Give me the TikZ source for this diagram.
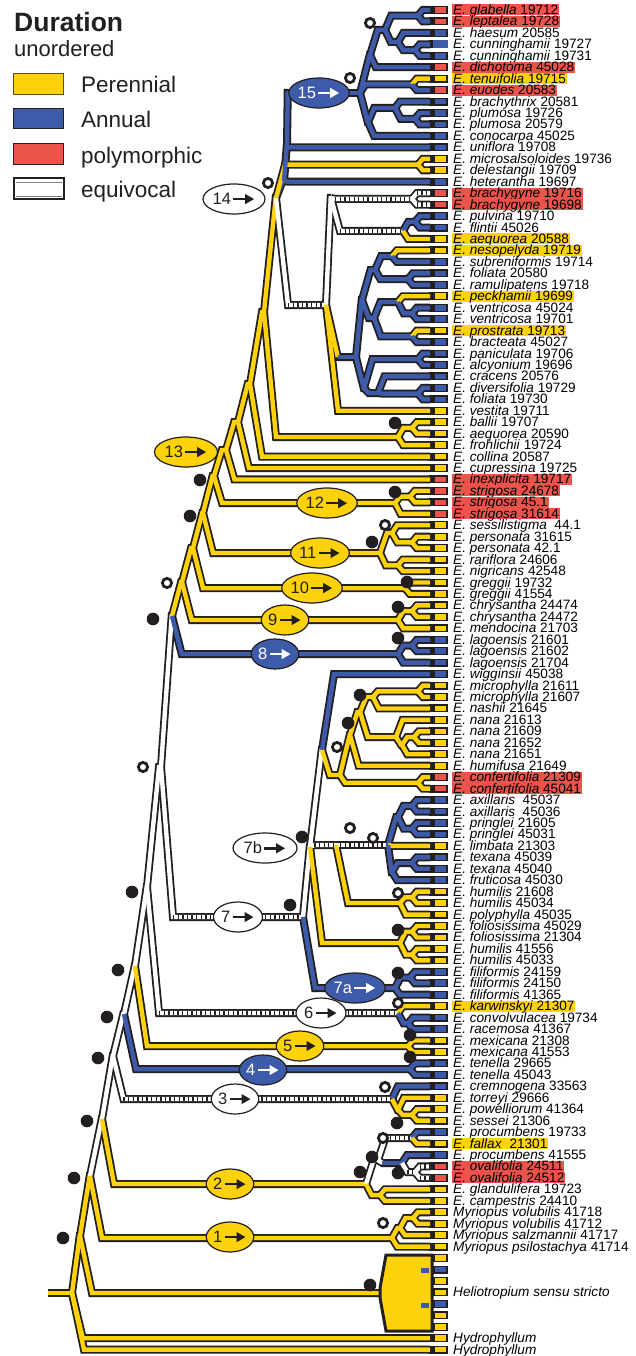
\documentclass[tikz,border=0pt]{standalone}
\usepackage{fontspec}
\setmainfont{Liberation Sans}
\usetikzlibrary{arrows.meta,shapes.geometric,calc}
\definecolor{pY}{HTML}{FDD20A}
\definecolor{pB}{HTML}{3E5BA9}
\definecolor{pR}{HTML}{EC534A}
\definecolor{blk}{HTML}{231F20}
\tikzset{
 blkline/.style={draw=blk,line width=8pt,line join=miter},
 colY/.style={draw=pY,line width=4.4pt,line join=miter},
 colB/.style={draw=pB,line width=4.4pt,line join=miter},
 colW/.style={draw=white,line width=4.4pt,line join=miter},
 tickY/.style={draw=none},
 tickB/.style={draw=none},
 tickW/.style={draw=blk,line width=4.4pt,dash pattern=on 1.3pt off 3.3pt},
 lbl/.style={anchor=west,inner xsep=1pt,inner ysep=0pt,text height=10pt,text depth=1pt,font=\fontsize{13.6}{14}\selectfont},
 hR/.style={fill=pR},
 hY/.style={fill=pY},
 ovbase/.style={ellipse,draw=blk,line width=1.2pt,inner sep=0pt,minimum height=30pt,font=\fontsize{16.5}{18}\selectfont},
 ovY/.style={ovbase,fill=pY,text=blk},
 ovB/.style={ovbase,fill=pB,text=white},
 ovW/.style={ovbase,fill=white,text=blk},
 legtxt/.style={anchor=base west,inner sep=0pt,font=\fontsize{22.5}{24}\selectfont,text=blk}
}
\newcommand\arrw[1]{\tikz[baseline=-5.6pt]{\draw[#1,line width=2.4pt,-{Triangle[length=9pt,width=9.5pt]}] (0pt,0pt)--(21pt,0pt);}}
\newcommand\slf{min(0.15*abs((\y2)-(\y1))+4,12,max((\x2)-(\x1)-0.3,0))}
\newcommand\bE[3]{\draw[blkline] let \p1=(#2),\p2=(#3),\n1={\slf} in (\p1)--({\x1+\n1},\y2)--(\p2);}
\newcommand\cE[3]{\draw[col#1] let \p1=(#2),\p2=(#3),\n1={\slf} in (\p1)--({\x1+\n1},\y2)--(\p2);
 \draw[tick#1] let \p1=(#2),\p2=(#3),\n1={\slf} in ({\x1+\n1},\y2)--(\p2);}
\newcommand\bEs[4]{\bE{}{#3}{#4}}
\newcommand\cEs[4]{\draw[col#1] let \p1=(#3),\p2=(#4),\n1={\slf} in (\p1)--({\x1+\n1},\y2);
 \draw[col#2] let \p1=(#3),\p2=(#4),\n1={\slf} in ({\x1+\n1},\y2)--(\p2);
 \draw[tick#2] let \p1=(#3),\p2=(#4),\n1={\slf} in ({\x1+\n1},\y2)--(\p2);}
\newcommand\lb[3]{\node[lbl,#2] (t#1) at (452,{10+(#1-1)*11.45}) {#3};}
\newcommand\treeedges{%
\TE{Y}{R0}{nA}\TE{Y}{nA}{nB}\TE{Y}{nA}{l117}\TE{Y}{nA}{l118}
\TE{Y}{nB}{nC}\TE{Y}{nB}{nHL}
\TE{W}{nC}{nD}\TE{Y}{nC}{n1}
\TE{W}{nD}{nE}\TE{Y}{nD}{n2}
\TE{W}{nE}{nF}\TE{W}{nE}{n3}
\TE{W}{nF}{nG}\TE{B}{nF}{n4}
\TE{W}{nG}{nH}\TE{Y}{nG}{n5}
\TE{W}{nH}{nI}\TE{W}{nH}{n6}
\TE{W}{nI}{nJ}\TE{W}{nI}{n7}
\TE{Y}{nJ}{nK}\TE{B}{nJ}{n8}
\TE{Y}{nK}{nL}\TE{Y}{nK}{n9}
\TE{Y}{nL}{nM}\TE{Y}{nL}{n10}
\TE{Y}{nM}{nN}\TE{Y}{nM}{n11}
\TE{Y}{nN}{nO}\TE{Y}{nN}{n12}
\TE{Y}{nO}{nP}\TE{Y}{nO}{l42}
\TE{Y}{nP}{nQ}\TE{Y}{nP}{l41}
\TE{Y}{nQ}{nS}\TE{Y}{nQ}{l40}
\TE{Y}{nS}{nT}\TE{Y}{nS}{nBf}
\TE{B}{nT}{nT1}\TE{W}{nT}{nX}\TE{Y}{nT}{nMd}
\TE{B}{nT1}{l16}\TE{B}{nT1}{nT2}
\TE{B}{nT2}{l13}\TE{B}{nT2}{nT3}\TE{B}{nT3}{n15}
\TE{B}{n15}{nNa}\TE{B}{n15}{nTe}\TE{B}{n15}{nNb}
\TE{B}{nNa}{nNab}\TE{B}{nNa}{l6}
\TE{B}{nNab}{nGl}\TE{B}{nNab}{nHc}
\TE{B}{nGl}{l1}\TE{B}{nGl}{l2}
\TE{B}{nHc}{l3}\TE{B}{nHc}{nCu}
\TE{B}{nCu}{l4}\TE{B}{nCu}{l5}
\TE{Y}{nTe}{l7}\TE{B}{nTe}{l8}
\TE{B}{nNb}{nBp}\TE{B}{nNb}{l12}
\TE{B}{nBp}{l9}\TE{B}{nBp}{nPl}
\TE{B}{nPl}{l10}\TE{B}{nPl}{l11}
\TE{Y}{nMd}{l14}\TE{Y}{nMd}{l15}
\TE{W}{nX}{nY}\TEs{Y}{B}{nX}{nBB}\TE{Y}{nX}{l36}
\TE{W}{nY}{nBr}\TE{W}{nY}{nPfa}
\TE{W}{nBr}{l17}\TE{W}{nBr}{l18}
\TE{B}{nPfa}{nPf}\TE{Y}{nPfa}{l21}
\TE{B}{nPf}{l19}\TE{B}{nPf}{l20}
\TE{B}{nBB}{nB1}\TE{B}{nBB}{nB2}
\TE{B}{nB1}{nB1a}\TE{B}{nB1}{nB1b}
\TE{B}{nB1a}{nNs}\TE{B}{nB1a}{nFr}
\TE{Y}{nNs}{l22}\TE{B}{nNs}{l23}
\TE{B}{nFr}{l24}\TE{B}{nFr}{l25}
\TE{B}{nB1b}{nPv}\TE{B}{nB1b}{nPb}
\TE{Y}{nPv}{l26}\TE{B}{nPv}{nVen}
\TE{B}{nVen}{l27}\TE{B}{nVen}{l28}
\TE{Y}{nPb}{l29}\TE{B}{nPb}{l30}
\TE{B}{nB2}{nPa}\TE{B}{nB2}{nB2b}
\TE{B}{nPa}{l31}\TE{B}{nPa}{l32}
\TE{B}{nB2b}{l33}\TE{B}{nB2b}{nDf}
\TE{B}{nDf}{l34}\TE{B}{nDf}{l35}
\TE{Y}{nBf}{nBa}\TE{Y}{nBf}{l39}
\TE{Y}{nBa}{l37}\TE{Y}{nBa}{l38}
\TE{Y}{n12}{nSt}\TE{Y}{n12}{l45}
\TE{Y}{nSt}{l43}\TE{Y}{nSt}{l44}
\TE{Y}{n11}{nSp}\TE{Y}{n11}{nRn}
\TE{Y}{nSp}{l46}\TE{Y}{nSp}{nPe}
\TE{Y}{nPe}{l47}\TE{Y}{nPe}{l48}
\TE{Y}{nRn}{l49}\TE{Y}{nRn}{l50}
\TE{Y}{n10}{l51}\TE{Y}{n10}{l52}
\TE{Y}{n9}{nCh}\TE{Y}{n9}{l55}
\TE{Y}{nCh}{l53}\TE{Y}{nCh}{l54}
\TE{B}{n8}{nLg}\TE{B}{n8}{l58}
\TE{B}{nLg}{l56}\TE{B}{nLg}{l57}
\TE{W}{n7}{n7b}\TE{B}{n7}{n7a}
\TE{B}{n7a}{nFf}\TE{B}{n7a}{l87}
\TE{B}{nFf}{l85}\TE{B}{nFf}{l86}
\TE{W}{n7b}{nW}\TE{W}{n7b}{nMid}\TE{Y}{n7b}{nFh}
\TE{B}{nW}{l59}\TE{Y}{nW}{nYa}
\TE{Y}{nYa}{nYb}\TE{Y}{nYa}{nCf}
\TE{Y}{nCf}{l68}\TE{Y}{nCf}{l69}
\TE{Y}{nYb}{nYc}\TE{Y}{nYb}{l67}
\TE{Y}{nYc}{nYd}\TE{Y}{nYc}{nNa1}
\TE{Y}{nYd}{nMic}\TE{Y}{nYd}{l62}
\TE{Y}{nMic}{l60}\TE{Y}{nMic}{l61}
\TE{Y}{nNa1}{l63}\TE{Y}{nNa1}{nNa2}
\TE{Y}{nNa2}{nNa3}\TE{Y}{nNa2}{l66}
\TE{Y}{nNa3}{l64}\TE{Y}{nNa3}{l65}
\TE{W}{nMid}{nAlt}\TE{Y}{nMid}{nHp}
\TE{B}{nAlt}{nAp}\TE{Y}{nAlt}{l74}\TE{B}{nAlt}{nTf}
\TE{B}{nAp}{nAx}\TE{B}{nAp}{nPr}
\TE{B}{nAx}{l70}\TE{B}{nAx}{l71}
\TE{B}{nPr}{l72}\TE{B}{nPr}{l73}
\TE{B}{nTf}{nTx}\TE{B}{nTf}{l77}
\TE{B}{nTx}{l75}\TE{B}{nTx}{l76}
\TE{Y}{nHp}{nHu}\TE{Y}{nHp}{l80}
\TE{Y}{nHu}{l78}\TE{Y}{nHu}{l79}
\TE{Y}{nFh}{nFo}\TE{Y}{nFh}{nHu2}
\TE{Y}{nFo}{l81}\TE{Y}{nFo}{l82}
\TE{Y}{nHu2}{l83}\TE{Y}{nHu2}{l84}
\TE{Y}{n6}{l88}\TE{B}{n6}{nCr}
\TE{B}{nCr}{l89}\TE{B}{nCr}{l90}
\TE{Y}{n5}{l91}\TE{Y}{n5}{l92}
\TE{B}{n4}{l93}\TE{B}{n4}{l94}
\TE{B}{n3}{l95}\TE{Y}{n3}{n3b}
\TE{Y}{n3b}{l96}\TE{Y}{n3b}{nPs}
\TE{Y}{nPs}{l97}\TE{Y}{nPs}{l98}
\TE{W}{n2}{n2a}\TE{Y}{n2}{nGc}
\TE{W}{n2a}{nPf2}\TEs{W}{B}{n2a}{nPo}
\TE{B}{nPf2}{l99}\TE{Y}{nPf2}{l100}
\TE{B}{nPo}{l101}\TE{W}{nPo}{nOv}
\TE{W}{nOv}{l102}\TE{W}{nOv}{l103}
\TE{Y}{nGc}{l104}\TE{Y}{nGc}{l105}
\TE{Y}{n1}{n1b}\TE{Y}{n1}{l109}
\TE{Y}{n1b}{nVol}\TE{Y}{n1b}{l108}
\TE{Y}{nVol}{l106}\TE{Y}{nVol}{l107}
}
\begin{document}
\begin{tikzpicture}[x=1pt,y=-1pt]
\useasboundingbox (0,0) rectangle (635,1356);
\fill[white] (0,0) rectangle (635,1356);
% leaves
\foreach \i in {1,...,118} {\coordinate (l\i) at (430,{10+(\i-1)*11.45});}
% internal nodes
\coordinate (R0) at (48,1293);
\coordinate (nA) at (72,1293);
\coordinate (nB) at (80,1236);
\coordinate (nC) at (90,1176);
\coordinate (nD) at (102,1119);
\coordinate (nE) at (113,1056);
\coordinate (nF) at (124,1014);
\coordinate (nG) at (135,966);
\coordinate (nH) at (147,887);
\coordinate (nI) at (161,767);
\coordinate (nJ) at (172,616);
\coordinate (nK) at (182,582);
\coordinate (nL) at (193,548);
\coordinate (nM) at (203,513);
\coordinate (nN) at (214,476);
\coordinate (nO) at (226,450);
\coordinate (nP) at (238,422);
\coordinate (nQ) at (250,384);
\coordinate (nS) at (264,312);
\coordinate (nT) at (276,198);
\coordinate (nT1) at (284,181);
\coordinate (nT2) at (287,147);
\coordinate (nT3) at (288,93);
\coordinate (n15) at (360,93);
\coordinate (nNa) at (370,55);
\coordinate (nNab) at (385,30);
\coordinate (nGl) at (418,15.7);
\coordinate (nHc) at (398,42);
\coordinate (nCu) at (415,50.1);
\coordinate (nTe) at (412,84.4);
\coordinate (nNb) at (368,122);
\coordinate (nBp) at (395,108);
\coordinate (nPl) at (415,118.8);
\coordinate (nMd) at (418,164.6);
\coordinate (nX) at (326,305);
\coordinate (nY) at (331,198);
\coordinate (nBr) at (412,198.9);
\coordinate (nPfa) at (403,231);
\coordinate (nPf) at (415,221.8);
\coordinate (nBB) at (356,357);
\coordinate (nB1) at (362,300);
\coordinate (nB1a) at (375,270);
\coordinate (nNs) at (392,256.2);
\coordinate (nFr) at (408,279.1);
\coordinate (nB1b) at (374,318);
\coordinate (nPv) at (398,302);
\coordinate (nVen) at (412,313.4);
\coordinate (nPb) at (412,336.3);
\coordinate (nB2) at (364,388);
\coordinate (nPa) at (418,359.2);
\coordinate (nB2b) at (378,393);
\coordinate (nDf) at (418,393.6);
\coordinate (nBf) at (398,437);
\coordinate (nBa) at (412,427.9);
\coordinate (n12) at (395,503);
\coordinate (nSt) at (410,496.6);
\coordinate (n11) at (380,553);
\coordinate (nSp) at (392,533);
\coordinate (nPe) at (412,542.4);
\coordinate (nRn) at (398,565.3);
\coordinate (n10) at (405,588.2);
\coordinate (n9) at (398,620);
\coordinate (nCh) at (412,611.1);
\coordinate (n8) at (398,654);
\coordinate (nLg) at (412,645.5);
\coordinate (n7) at (303,917);
\coordinate (n7a) at (395,988);
\coordinate (nFf) at (410,977.5);
\coordinate (n7b) at (310,847);
\coordinate (nW) at (322,750);
\coordinate (nYa) at (340,775);
\coordinate (nCf) at (418,782.9);
\coordinate (nYb) at (350,735);
\coordinate (nYc) at (360,712);
\coordinate (nYd) at (373,697);
\coordinate (nMic) at (418,691.3);
\coordinate (nNa1) at (396,737);
\coordinate (nNa2) at (402,745);
\coordinate (nNa3) at (414,737.1);
\coordinate (nMid) at (336,845);
\coordinate (nAlt) at (388,845);
\coordinate (nAp) at (398,817);
\coordinate (nAx) at (412,805.8);
\coordinate (nPr) at (412,828.7);
\coordinate (nTf) at (392,872);
\coordinate (nTx) at (412,863);
\coordinate (nHp) at (400,903);
\coordinate (nHu) at (412,897.4);
\coordinate (nFh) at (400,943);
\coordinate (nFo) at (412,931.7);
\coordinate (nHu2) at (412,954.6);
\coordinate (n6) at (398,1013);
\coordinate (nCr) at (408,1023.3);
\coordinate (n5) at (408,1046.2);
\coordinate (n4) at (410,1069.1);
\coordinate (n3) at (392,1099);
\coordinate (n3b) at (398,1110);
\coordinate (nPs) at (412,1114.9);
\coordinate (n2) at (366,1184);
\coordinate (n2a) at (378,1160);
\coordinate (nPf2) at (412,1138);
\coordinate (nPo) at (402,1163);
\coordinate (nOv) at (415,1172.2);
\coordinate (nGc) at (380,1195.1);
\coordinate (n1) at (392,1238);
\coordinate (n1b) at (400,1228);
\coordinate (nVol) at (413,1218);
\coordinate (nHL) at (380,1293);
% black pass
\let\TE\bE \let\TEs\bEs
\treeedges
\foreach \i in {1,...,109,117,118} {\fill[blk] (429,{10+(\i-1)*11.45-4}) rectangle (433,{10+(\i-1)*11.45+4});}
% colour pass
\let\TE\cE \let\TEs\cEs
\treeedges
% Heliotropium block
\draw[draw=blk,fill=pY,line width=3pt,line join=miter] (380,1288)--(386,1255)--(432,1255)--(432,1331)--(386,1331)--(380,1298)--cycle;
\fill[pB] (421,1268) rectangle (429,1273);
\fill[pB] (421,1303) rectangle (429,1308);
% ovals
\node[ovB,minimum width=46pt] (o15) at (319,93) {15\hspace{1pt}\arrw{white}};
\node[ovW,minimum width=62pt] (o14) at (234,199) {14\hspace{1pt}\arrw{blk}};
\node[ovY,minimum width=63pt] (o13) at (186,452) {13\hspace{1pt}\arrw{blk}};
\node[ovY,minimum width=58pt] (o12) at (327,503) {12\hspace{1pt}\arrw{blk}};
\node[ovY,minimum width=58pt] (o11) at (320,553) {11\hspace{1pt}\arrw{blk}};
\node[ovY,minimum width=58pt] (o10) at (312,588) {10\hspace{1pt}\arrw{blk}};
\node[ovY,minimum width=46pt] (o9) at (285,620) {9\hspace{1pt}\arrw{blk}};
\node[ovB,minimum width=47pt] (o8) at (275,654) {8\hspace{1pt}\arrw{white}};
\node[ovW,minimum width=64pt] (o7b) at (265,848) {7b\hspace{1pt}\arrw{blk}};
\node[ovW,minimum width=49pt] (o7) at (238,917) {7\hspace{1pt}\arrw{blk}};
\node[ovB,minimum width=58pt] (o7a) at (355,988) {7a\hspace{1pt}\arrw{white}};
\node[ovW,minimum width=50pt] (o6) at (321,1013) {6\hspace{1pt}\arrw{blk}};
\node[ovY,minimum width=47pt] (o5) at (300,1046) {5\hspace{1pt}\arrw{blk}};
\node[ovB,minimum width=47pt] (o4) at (263,1070) {4\hspace{1pt}\arrw{white}};
\node[ovW,minimum width=47pt] (o3) at (235,1099) {3\hspace{1pt}\arrw{blk}};
\node[ovY,minimum width=47pt] (o2) at (230,1184) {2\hspace{1pt}\arrw{blk}};
\node[ovY,minimum width=47pt] (o1) at (230,1237) {1\hspace{1pt}\arrw{blk}};
% support dots
\foreach \px/\py in {63/1238,74/1178,87/1121,98/1058,107/1017,118/970,132/892,153/619,190/516,200/480,395/423,395/492,372/542,407/582,398/607,398/638,360/695,348/723,302/837,290/905,398/930,398/973,410/1035,410/1057,397/1123,372/1157,360/1172,398/1173,370/1285}
 {\fill[blk] (\px,\py) circle[radius=6.3pt];}
\foreach \px/\py in {167/583,143/767,268/183,350/78,370/23,385/525,337/747,350/828,373/838,398/893,398/1003,385/1087,383/1138,383/1223}
 {\draw[blk,fill=white,line width=2.8pt] (\px,\py) circle[radius=4.6pt];}
% markers
\foreach \c [count=\i] in {pR,pR,pB,pB,pB,pR,pY,pR,pB,pB,
 pB,pB,pB,pY,pY,pB,pR,pR,pB,pB,
 pY,pY,pB,pB,pB,pY,pB,pB,pY,pB,
 pB,pB,pB,pB,pB,pY,pY,pY,pY,pY,
 pY,pR,pR,pR,pR,pY,pY,pY,pY,pY,
 pY,pY,pY,pY,pY,pB,pB,pB,pB,pY,
 pY,pY,pY,pY,pY,pY,pY,pR,pR,pB,
 pB,pB,pB,pY,pB,pB,pB,pY,pY,pY,
 pY,pY,pY,pY,pB,pB,pB,pY,pB,pB,
 pY,pY,pB,pB,pB,pY,pY,pY,pB,pY,
 pB,pR,pR,pY,pY,pY,pY,pY,pY,pY,
 pB,pY,pY,pB,pY,pY,pY,pY}
 {\draw[fill=\c,draw=blk,line width=1.2pt] (434,{10+(\i-1)*11.45-3.4}) rectangle (447,{10+(\i-1)*11.45+3.4});}
\fill[pB] (433.4,40.3) rectangle (447.6,48.4);
% labels
\lb{1}{hR}{\textit{E. glabella} 19712}
\lb{2}{hR}{\textit{E. leptalea} 19728}
\lb{3}{}{\textit{E. haesum} 20585}
\lb{4}{}{\textit{E. cunninghamii} 19727}
\lb{5}{}{\textit{E. cunninghamii} 19731}
\lb{6}{hR}{\textit{E. dichotoma} 45028}
\lb{7}{hY}{\textit{E. tenuifolia} 19715}
\lb{8}{hR}{\textit{E. euodes} 20583}
\lb{9}{}{\textit{E. brachythrix} 20581}
\lb{10}{}{\textit{E. plumosa} 19726}
\lb{11}{}{\textit{E. plumosa} 20579}
\lb{12}{}{\textit{E. conocarpa} 45025}
\lb{13}{}{\textit{E. uniflora} 19708}
\lb{14}{}{\textit{E. microsalsoloides} 19736}
\lb{15}{}{\textit{E. delestangii} 19709}
\lb{16}{}{\textit{E. heterantha} 19697}
\lb{17}{hR}{\textit{E. brachygyne} 19716}
\lb{18}{hR}{\textit{E. brachygyne} 19698}
\lb{19}{}{\textit{E. pulvina} 19710}
\lb{20}{}{\textit{E. flintii} 45026}
\lb{21}{hY}{\textit{E. aequorea} 20588}
\lb{22}{hY}{\textit{E. nesopelyda} 19719}
\lb{23}{}{\textit{E. subreniformis} 19714}
\lb{24}{}{\textit{E. foliata} 20580}
\lb{25}{}{\textit{E. ramulipatens} 19718}
\lb{26}{hY}{\textit{E. peckhamii} 19699}
\lb{27}{}{\textit{E. ventricosa} 45024}
\lb{28}{}{\textit{E. ventricosa} 19701}
\lb{29}{hY}{\textit{E. prostrata} 19713}
\lb{30}{}{\textit{E. bracteata} 45027}
\lb{31}{}{\textit{E. paniculata} 19706}
\lb{32}{}{\textit{E. alcyonium} 19696}
\lb{33}{}{\textit{E. cracens} 20576}
\lb{34}{}{\textit{E. diversifolia} 19729}
\lb{35}{}{\textit{E. foliata} 19730}
\lb{36}{}{\textit{E. vestita} 19711}
\lb{37}{}{\textit{E. ballii} 19707}
\lb{38}{}{\textit{E. aequorea} 20590}
\lb{39}{}{\textit{E. frohlichii} 19724}
\lb{40}{}{\textit{E. collina} 20587}
\lb{41}{}{\textit{E. cupressina} 19725}
\lb{42}{hR}{\textit{E. inexplicita} 19717}
\lb{43}{hR}{\textit{E. strigosa} 24678}
\lb{44}{hR}{\textit{E. strigosa} 45.1}
\lb{45}{hR}{\textit{E. strigosa} 31614}
\lb{46}{}{\textit{E. sessilistigma}\ \ 44.1}
\lb{47}{}{\textit{E. personata} 31615}
\lb{48}{}{\textit{E. personata} 42.1}
\lb{49}{}{\textit{E. rariflora} 24606}
\lb{50}{}{\textit{E. nigricans} 42548}
\lb{51}{}{\textit{E. greggii} 19732}
\lb{52}{}{\textit{E. greggii} 41554}
\lb{53}{}{\textit{E. chrysantha} 24474}
\lb{54}{}{\textit{E. chrysantha} 24472}
\lb{55}{}{\textit{E. mendocina} 21703}
\lb{56}{}{\textit{E. lagoensis} 21601}
\lb{57}{}{\textit{E. lagoensis} 21602}
\lb{58}{}{\textit{E. lagoensis} 21704}
\lb{59}{}{\textit{E. wigginsii} 45038}
\lb{60}{}{\textit{E. microphylla} 21611}
\lb{61}{}{\textit{E. microphylla} 21607}
\lb{62}{}{\textit{E. nashii} 21645}
\lb{63}{}{\textit{E. nana} 21613}
\lb{64}{}{\textit{E. nana} 21609}
\lb{65}{}{\textit{E. nana} 21652}
\lb{66}{}{\textit{E. nana} 21651}
\lb{67}{}{\textit{E. humifusa} 21649}
\lb{68}{hR}{\textit{E. confertifolia} 21309}
\lb{69}{hR}{\textit{E. confertifolia} 45041}
\lb{70}{}{\textit{E. axillaris}\ \ 45037}
\lb{71}{}{\textit{E. axillaris}\ \ 45036}
\lb{72}{}{\textit{E. pringlei} 21605}
\lb{73}{}{\textit{E. pringlei} 45031}
\lb{74}{}{\textit{E. limbata} 21303}
\lb{75}{}{\textit{E. texana} 45039}
\lb{76}{}{\textit{E. texana} 45040}
\lb{77}{}{\textit{E. fruticosa} 45030}
\lb{78}{}{\textit{E. humilis} 21608}
\lb{79}{}{\textit{E. humilis} 45034}
\lb{80}{}{\textit{E. polyphylla} 45035}
\lb{81}{}{\textit{E. foliosissima} 45029}
\lb{82}{}{\textit{E. foliosissima} 21304}
\lb{83}{}{\textit{E. humilis} 41556}
\lb{84}{}{\textit{E. humilis} 45033}
\lb{85}{}{\textit{E. filiformis} 24159}
\lb{86}{}{\textit{E. filiformis} 24150}
\lb{87}{}{\textit{E. filiformis} 41365}
\lb{88}{hY}{\textit{E. karwinskyi} 21307}
\lb{89}{}{\textit{E. convolvulacea} 19734}
\lb{90}{}{\textit{E. racemosa} 41367}
\lb{91}{}{\textit{E. mexicana} 21308}
\lb{92}{}{\textit{E. mexicana} 41553}
\lb{93}{}{\textit{E. tenella} 29665}
\lb{94}{}{\textit{E. tenella} 45043}
\lb{95}{}{\textit{E. cremnogena} 33563}
\lb{96}{}{\textit{E. torreyi} 29666}
\lb{97}{}{\textit{E. powelliorum} 41364}
\lb{98}{}{\textit{E. sessei} 21306}
\lb{99}{}{\textit{E. procumbens} 19733}
\lb{100}{hY}{\textit{E. fallax}\ \ 21301}
\lb{101}{}{\textit{E. procumbens} 41555}
\lb{102}{hR}{\textit{E. ovalifolia} 24511}
\lb{103}{hR}{\textit{E. ovalifolia} 24512}
\lb{104}{}{\textit{E. glandulifera} 19723}
\lb{105}{}{\textit{E. campestris} 24410}
\lb{106}{}{\textit{Myriopus volubilis} 41718}
\lb{107}{}{\textit{Myriopus volubilis} 41712}
\lb{108}{}{\textit{Myriopus salzmannii} 41717}
\lb{109}{}{\textit{Myriopus psilostachya} 41714}
\lb{113}{}{\textit{Heliotropium sensu stricto}}
\lb{117}{}{\textit{Hydrophyllum}}
\lb{118}{}{\textit{Hydrophyllum}}
% legend
\node[anchor=base west,inner sep=0pt,font=\bfseries\fontsize{26.5}{28}\selectfont,text=blk] (lgT) at (14,32) {Duration};
\node[anchor=base west,inner sep=0pt,font=\fontsize{22}{24}\selectfont,text=blk] (lgU) at (14,57) {unordered};
\draw[fill=pY,draw=blk!75!pY,line width=1.3pt] (13.5,73.5) rectangle (63.5,94.5);
\draw[fill=pB,draw=blk,line width=1.3pt] (13.5,108.5) rectangle (63.5,128.5);
\draw[fill=pR,draw=blk,line width=1.3pt] (13.5,143.5) rectangle (63.5,164.5);
\draw[fill=white,draw=blk,line width=2pt] (13.5,178.5) rectangle (63.5,199.5);
\draw[gray,line width=0.8pt] (15.5,182) -- (61.5,182) (15.5,196) -- (61.5,196);
\node[legtxt] (lg1) at (81,93) {Perennial};
\node[legtxt] (lg2) at (81,128) {Annual};
\node[legtxt] (lg3) at (81,164) {polymorphic};
\node[legtxt] (lg4) at (81,198) {equivocal};
\end{tikzpicture}
\end{document}
